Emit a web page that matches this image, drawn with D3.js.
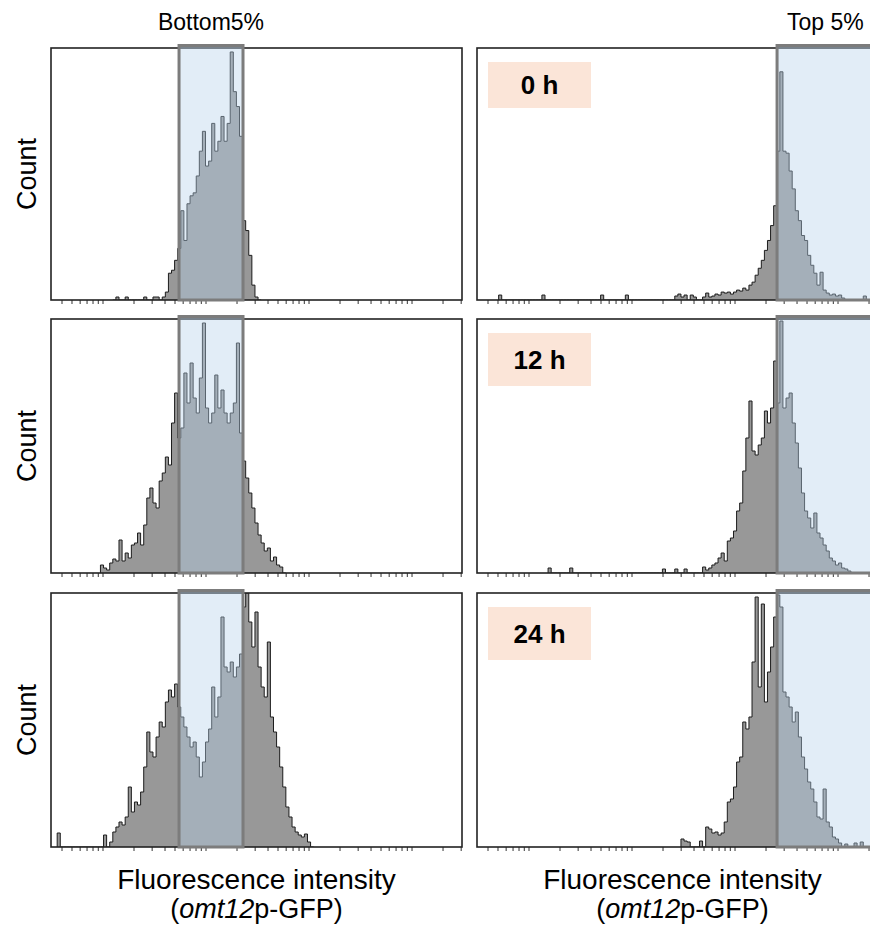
<!DOCTYPE html>
<html>
<head>
<meta charset="utf-8">
<script src="https://cdn.jsdelivr.net/npm/d3@7"></script>
<style>
  html, body { margin: 0; padding: 0; background: #fff; }
  svg { display: block; font-family: "Liberation Sans", Arial, Helvetica, sans-serif; }
</style>
</head>
<body>
<svg id="chart" width="870" height="928"></svg>
<script>
// ---------------- DATA ----------------
// Columns (sort gates) and rows (time points)
const columns = ["Bottom5%", "Top 5%"];
const timepoints = ["0 h", "12 h", "24 h"];

// Histogram binning on the log10 fluorescence axis (uniform bins in log space)
const axisLogMin = 0.5;     // log10 of left edge of axis
const axisLogMax = 4.49;    // log10 of right edge of axis
const binLogWidth = 0.03;   // width of one histogram bin in decades

// Count per bin; each series starts at the bin index given in seriesFirstBin
const bottom0h = [0,3,0,0,3,0,0,0,0,0,3,0,0,3,3,0,3,8,27,30,40,52,90,60,97,105,108,125,150,170,135,140,178,150,160,185,160,178,250,210,195,165,80,70,45,15,3,0];
const bottom12h = [8,5,3,10,14,12,33,12,20,15,28,30,40,28,48,75,85,70,65,92,100,116,108,150,180,135,145,200,170,210,175,160,195,250,165,150,160,198,165,183,160,150,160,170,230,140,112,95,80,65,50,38,30,22,25,12,16,8,6,0];
const bottom24h = [14,0,0,0,0,0,0,0,0,0,0,0,0,0,0,12,0,5,15,20,25,22,30,60,35,45,42,55,80,115,95,90,110,125,120,145,157,150,163,140,130,120,110,100,105,90,70,85,105,118,160,130,150,230,180,175,185,170,180,193,240,254,225,200,235,180,160,150,205,130,115,100,80,60,40,30,20,15,12,10,13,5,0];
const top0h = [5,0,0,0,0,0,0,0,0,0,0,0,0,0,5,0,0,0,0,0,0,0,0,0,0,0,0,0,0,0,0,0,0,5,0,0,0,0,0,0,0,5,0,0,0,0,0,0,0,0,0,0,0,0,0,0,0,4,6,3,5,0,5,3,0,0,3,7,3,4,6,5,8,7,8,6,8,10,9,12,10,15,18,25,32,40,50,60,75,95,150,230,150,148,130,112,90,80,65,60,45,35,27,15,28,10,7,5,6,4,5,2,0,0,0,0,0,0,4,0];
const top12h = [5,0,0,0,0,0,0,5,0,0,0,0,0,0,0,0,0,0,0,0,0,0,0,0,0,0,0,0,0,0,0,0,0,0,0,0,0,4,0,0,0,4,0,0,4,0,0,0,0,0,6,3,5,8,10,15,20,12,32,35,42,62,70,102,135,172,122,118,128,135,162,150,165,212,170,252,165,175,180,150,130,105,80,62,55,45,60,40,35,28,22,15,12,8,10,5,4,2,0];
const top24h = [8,6,5,0,0,0,6,0,20,18,14,15,12,14,25,45,48,60,85,90,125,118,130,185,250,160,243,145,175,200,230,252,240,155,150,140,125,135,110,90,78,65,58,45,30,28,58,25,20,10,8,4,0,3,0,0,4,0,5,0];

const seriesValues = [bottom0h, bottom12h, bottom24h, top0h, top12h, top24h];
const seriesFirstBin = [20, 16, 2, 7, 23, 66];
const seriesColumn = [0, 0, 0, 1, 1, 1];
const seriesRow = [0, 1, 2, 0, 1, 2];

// Sort gates (log10 fluorescence bounds) per column
const gateLogLow = [1.743, 3.413];
const gateLogHigh = [2.364, 4.75];

const countMax = 254;
const yLabel = "Count";
const xLabelLine1 = "Fluorescence intensity";
const xLabelGene = "omt12";
const xLabelRest = "p-GFP)";

// ---------------- LAYOUT ----------------
const svg = d3.select("#chart");
const panelW = 411;
const colX = [51, 477];
const rowTop = [48, 319, 593];
const rowBottom = [300, 573, 847];

const x = d3.scaleLog().domain([Math.pow(10, axisLogMin), Math.pow(10, axisLogMax)]).range([0, panelW]);

// tick values: 1..9 x each decade within domain
const tickVals = [];
for (let d = 0; d <= 5; d++) {
  for (let k = 1; k <= 9; k++) {
    const v = k * Math.pow(10, d);
    if (v >= x.domain()[0] && v <= x.domain()[1]) tickVals.push(v);
  }
}

const defs = svg.append("defs");

// ----- panels -----
for (let c = 0; c < 2; c++) {
  for (let r = 0; r < 3; r++) {
    const h = rowBottom[r] - rowTop[r];
    const g = svg.append("g").attr("transform", `translate(${colX[c]},${rowTop[r]})`);
    const y = d3.scaleLinear().domain([0, countMax]).range([h, 0]);
    const clipId = `clip-${c}-${r}`;
    defs.append("clipPath").attr("id", clipId)
      .append("rect").attr("x", 0).attr("y", 0).attr("width", panelW).attr("height", h);

    g.append("rect").attr("width", panelW).attr("height", h).attr("fill", "#fff");

    // histogram
    const si = seriesValues.findIndex((_, i) => seriesColumn[i] === c && seriesRow[i] === r);
    const vals = seriesValues[si];
    const first = seriesFirstBin[si];
    const pts = [];
    vals.forEach((v, k) => {
      const i = first + k;
      const lo = Math.pow(10, axisLogMin + binLogWidth * i);
      const hi = Math.pow(10, axisLogMin + binLogWidth * (i + 1));
      pts.push([lo, v], [hi, v]);
    });
    pts.unshift([pts[0][0], 0]);
    pts.push([pts[pts.length - 1][0], 0]);

    const hg = g.append("g").attr("clip-path", `url(#${clipId})`);
    hg.append("path").datum(pts)
      .attr("d", d3.area().x(d => x(d[0])).y0(y(0)).y1(d => y(d[1])))
      .attr("fill", "#989898");
    hg.append("path").datum(pts)
      .attr("d", d3.line().x(d => x(d[0])).y(d => y(d[1])))
      .attr("fill", "none").attr("stroke", "#1c1c1c").attr("stroke-width", 1);

    // axis ticks at bottom
    const ax = g.append("g").attr("transform", `translate(0,${h})`)
      .call(d3.axisBottom(x).tickValues(tickVals).tickSize(4).tickFormat(""));
    ax.select(".domain").remove();
    ax.selectAll(".tick line").attr("stroke", "#333").attr("stroke-width", 1);

    // frame
    g.append("rect").attr("width", panelW).attr("height", h)
      .attr("fill", "none").attr("stroke", "#222").attr("stroke-width", 1.6);

    // gate overlay
    const gx0 = x(Math.pow(10, gateLogLow[c]));
    const gx1 = x(Math.pow(10, gateLogHigh[c]));
    g.append("rect")
      .attr("x", gx0).attr("y", -2.5)
      .attr("width", gx1 - gx0).attr("height", h + 2.5)
      .attr("fill", "rgb(183,210,235)").attr("fill-opacity", 0.4)
      .attr("stroke", "#7c7c7c").attr("stroke-width", 3);

    // time label (right column)
    if (c === 1) {
      const bh = r === 0 ? 46 : 53;
      const lb = g.append("g").attr("transform", `translate(11,14)`);
      lb.append("rect").attr("width", 103).attr("height", bh).attr("fill", "#fbe5d8");
      lb.append("text").attr("x", 51.5).attr("y", bh / 2 + 9)
        .attr("text-anchor", "middle").attr("font-size", 26).attr("font-weight", "bold")
        .attr("fill", "#000").text(timepoints[r]);
    }

    // y label (left column)
    if (c === 0) {
      const cy = rowTop[r] + h / 2;
      svg.append("text")
        .attr("transform", `translate(36,${cy}) rotate(-90)`)
        .attr("text-anchor", "middle").attr("font-size", 27).attr("fill", "#000")
        .text(yLabel);
    }
  }

  // column header
  const cx = colX[c] + panelW / 2;
  if (c === 0) {
    svg.append("text").attr("x", 211).attr("y", 30).attr("text-anchor", "middle")
      .attr("font-size", 23).attr("fill", "#000").text(columns[c]);
  } else {
    svg.append("text").attr("x", 787).attr("y", 30).attr("text-anchor", "start")
      .attr("font-size", 23).attr("fill", "#000").text(columns[c]);
  }

  // x-axis label
  svg.append("text").attr("x", cx).attr("y", 889).attr("text-anchor", "middle")
    .attr("font-size", 28).attr("fill", "#000").text(xLabelLine1);
  const t2 = svg.append("text").attr("x", cx).attr("y", 918).attr("text-anchor", "middle")
    .attr("font-size", 27).attr("fill", "#000");
  t2.append("tspan").text("(");
  t2.append("tspan").attr("font-style", "italic").text(xLabelGene);
  t2.append("tspan").text(xLabelRest);
}
</script>
</body>
</html>
